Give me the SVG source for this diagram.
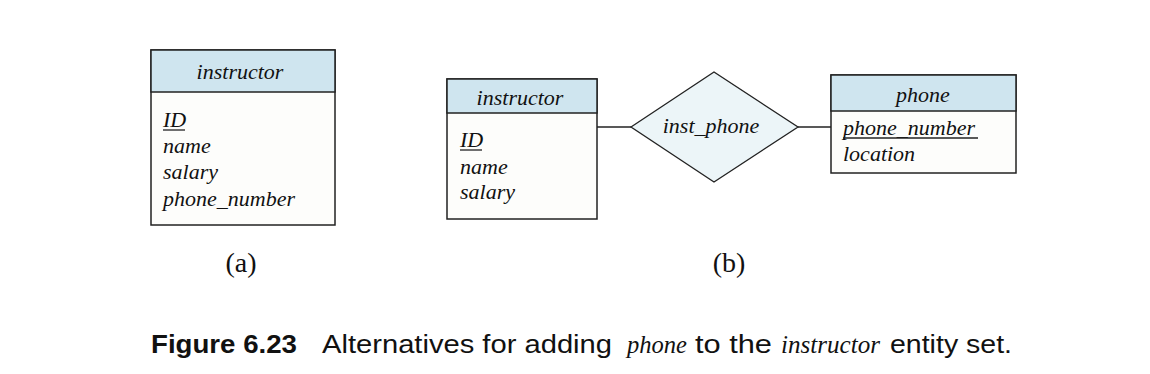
<svg xmlns="http://www.w3.org/2000/svg" width="1150" height="374" viewBox="0 0 1150 374">
<style>
.bg{fill:#ffffff}
.hdr{fill:#cfe5ef;stroke:#222;stroke-width:1.5}
.body{fill:#fdfdfb;stroke:#222;stroke-width:1.5}
.rel{fill:#ecf5f8;stroke:#222;stroke-width:1.3}
.ln{stroke:#222;stroke-width:1.3;fill:none}
.t{font-family:"Liberation Serif","Times New Roman",serif;font-style:italic;font-size:22px;fill:#111}
.m{text-anchor:middle}
.lbl{font-family:"Liberation Serif","Times New Roman",serif;font-size:28px;fill:#111;text-anchor:middle}
.cap{font-family:"Liberation Sans",Arial,sans-serif;font-size:26px;fill:#111}
.capb{font-family:"Liberation Sans",Arial,sans-serif;font-size:26px;font-weight:bold;fill:#111}
.capi{font-family:"Liberation Serif","Times New Roman",serif;font-style:italic;font-size:26px;fill:#111}
</style>
<rect class="bg" x="0" y="0" width="1150" height="374"/>
<g id="connectors">
<line class="ln" x1="597" y1="127" x2="631" y2="127"/>
<line class="ln" x1="798" y1="127" x2="831" y2="127"/>
</g>
<g id="instructor_a">
<rect class="body" x="151" y="50" width="184" height="175"/>
<rect class="hdr" x="151" y="50" width="184" height="42"/>
<text class="t m" x="240" y="79">instructor</text>
<text class="t" x="163" y="127">ID</text>
<line class="ln" x1="163" y1="130" x2="185" y2="130"/>
<text class="t" x="163" y="153">name</text>
<text class="t" x="163" y="179">salary</text>
<text class="t" x="163" y="206">phone_number</text>
</g>
<g id="instructor_b">
<rect class="body" x="447" y="79" width="150" height="140"/>
<rect class="hdr" x="447" y="79" width="150" height="34"/>
<text class="t m" x="520" y="105">instructor</text>
<text class="t" x="460" y="147">ID</text>
<line class="ln" x1="460" y1="150" x2="482" y2="150"/>
<text class="t" x="460" y="174">name</text>
<text class="t" x="460" y="199">salary</text>
</g>
<g id="inst_phone">
<polygon class="rel" points="631,127 714,72 798,127 714,182"/>
<text class="t m" x="711" y="133">inst_phone</text>
</g>
<g id="phone">
<rect class="body" x="831" y="75" width="185" height="98"/>
<rect class="hdr" x="831" y="75" width="185" height="36"/>
<text class="t m" x="923" y="102">phone</text>
<text class="t" x="843" y="135">phone_number</text>
<line class="ln" x1="843" y1="138" x2="978" y2="138"/>
<text class="t" x="843" y="161">location</text>
</g>
<g id="labels">
<text class="lbl" x="241" y="272">(a)</text>
<text class="lbl" x="729" y="272">(b)</text>
</g>
<g id="caption">
<text class="capb" x="151" y="353" textLength="146" lengthAdjust="spacingAndGlyphs">Figure 6.23</text>
<text class="cap" x="322" y="353" textLength="290" lengthAdjust="spacingAndGlyphs">Alternatives for adding</text>
<text class="capi" x="627" y="353" textLength="60" lengthAdjust="spacingAndGlyphs">phone</text>
<text class="cap" x="695" y="353" textLength="77" lengthAdjust="spacingAndGlyphs">to the</text>
<text class="capi" x="781" y="353" textLength="99" lengthAdjust="spacingAndGlyphs">instructor</text>
<text class="cap" x="890" y="353" textLength="122" lengthAdjust="spacingAndGlyphs">entity set.</text>
</g>
</svg>
